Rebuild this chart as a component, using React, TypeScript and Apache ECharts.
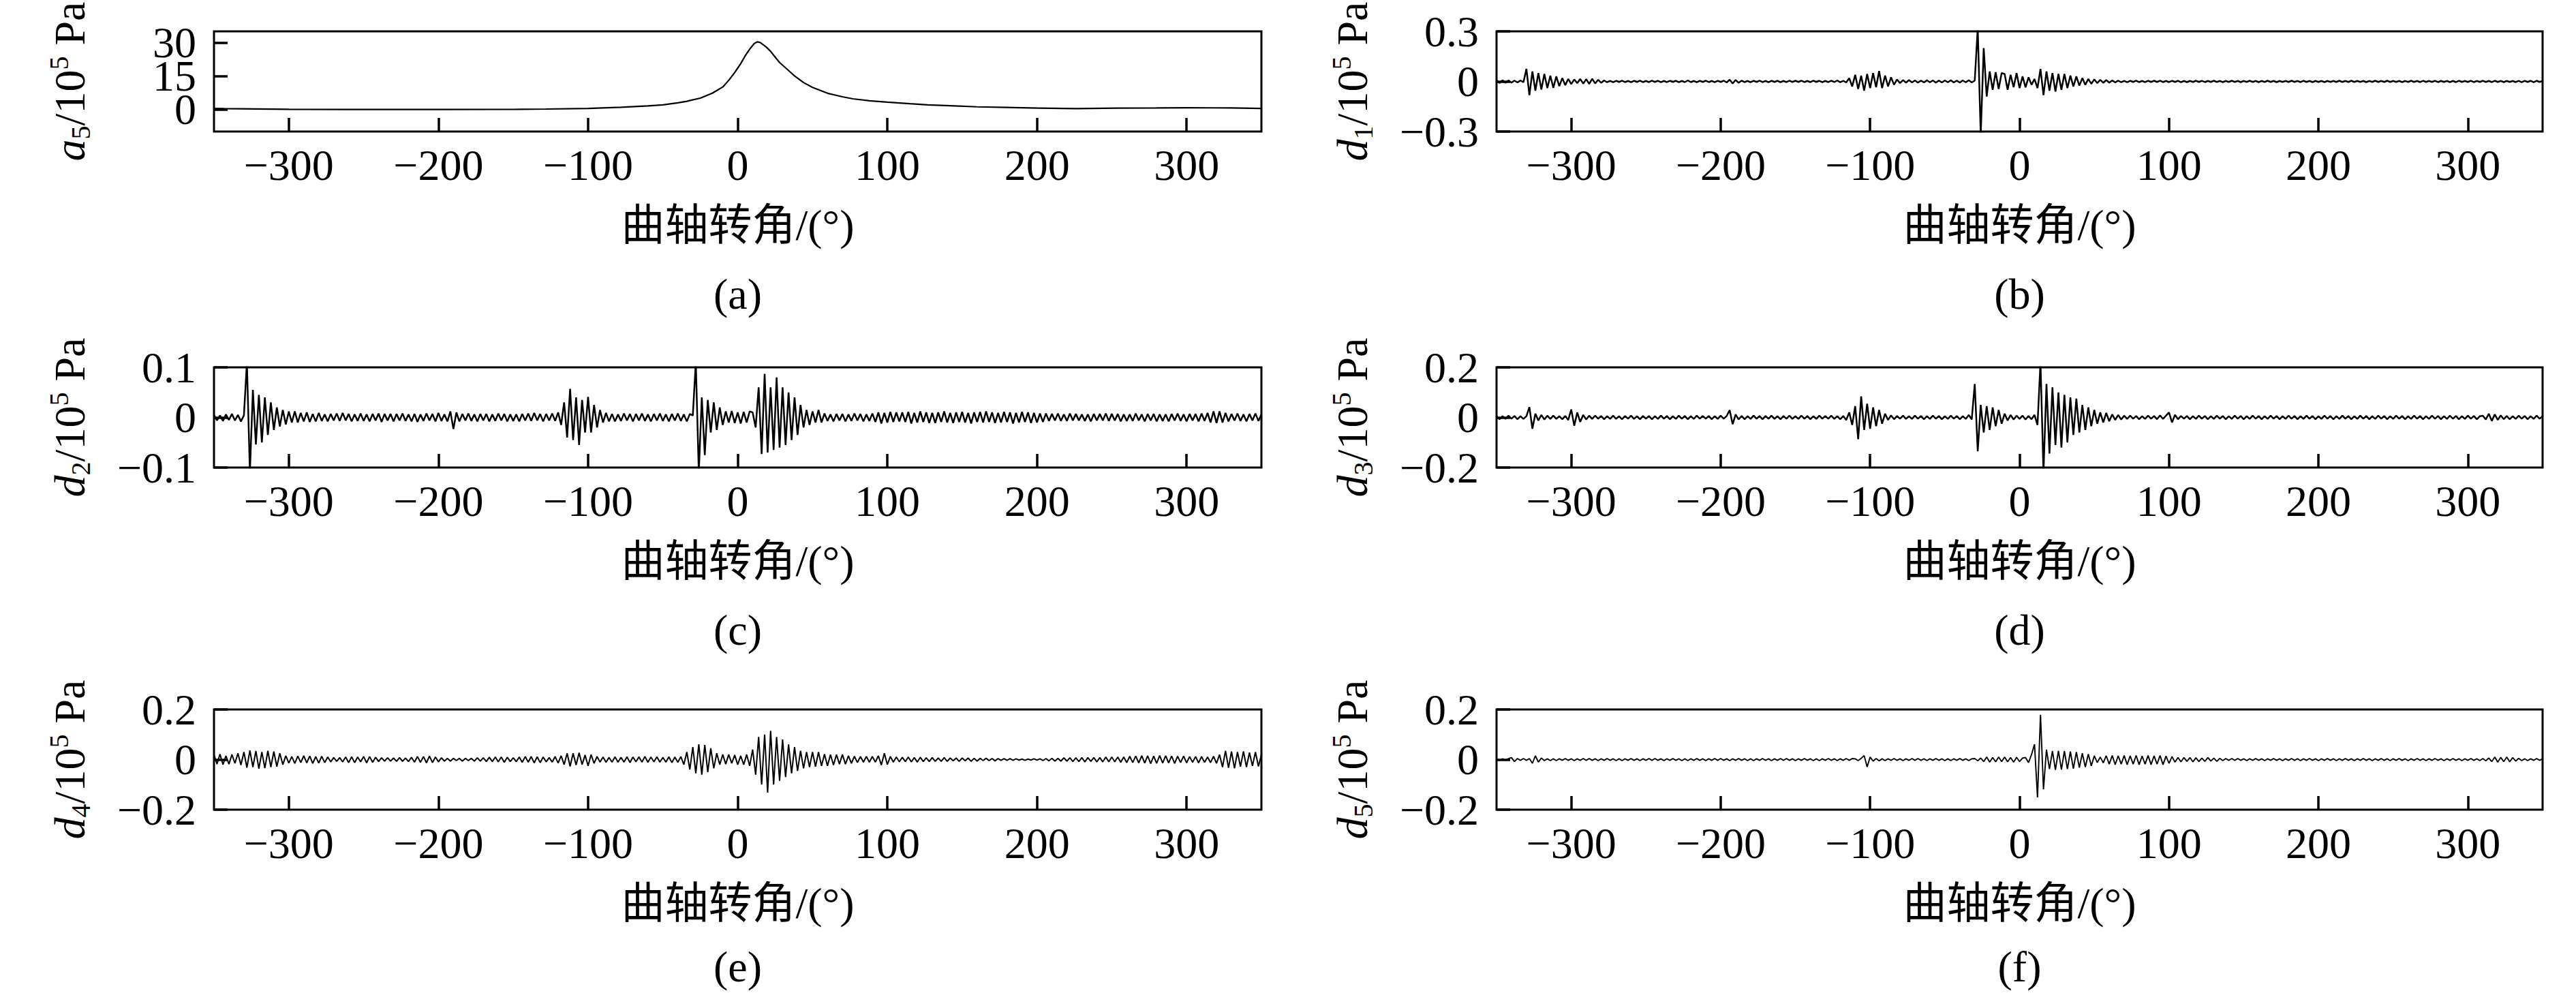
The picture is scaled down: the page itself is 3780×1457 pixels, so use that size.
import React, { useEffect, useRef } from "react";
import * as echarts from "echarts";

// ---------- data ----------
const X_TICKS = [-300, -200, -100, 0, 100, 200, 300];
const ANGLE_START = -350;
const ANGLE_STEP = 2;

// a5 approximation signal (smooth), read at irregular crank angles
const A5_ANGLES = [-350, -343, -300, -250, -200, -150, -128, -100, -78, -60, -50, -40, -34, -25, -17, -10, -6, -2, 2, 5, 8, 11, 13, 15, 17, 19, 22, 24, 28, 33, 38, 44, 50, 60, 70, 77, 88, 100, 115, 127, 145, 160, 180, 201, 226, 254, 280, 300, 330, 350];
const A5_VALUES = [0.4, 0.3, 0.0, -0.1, -0.1, -0.05, 0.1, 0.4, 0.9, 1.5, 2.0, 2.9, 3.6, 5.0, 7.2, 10.0, 13.0, 16.5, 20.5, 24.0, 27.0, 29.5, 30.3, 30.0, 29.0, 28.0, 26.0, 24.3, 21.0, 18.0, 15.0, 12.0, 9.8, 7.2, 5.6, 4.7, 3.8, 3.2, 2.5, 2.0, 1.5, 1.1, 0.8, 0.5, 0.3, 0.5, 0.6, 0.7, 0.6, 0.4];

// detail signals, one value every 2 degrees from -350 to 350 (351 values)
const D1 = [
  0.008,-0.009,0.007,-0.008,0.006,-0.007,0.005,-0.006,0.006,-0.005,
  0.075,-0.082,0.06,-0.055,0.05,-0.048,0.045,-0.04,0.035,-0.038,
  0.03,-0.028,0.02,-0.022,0.015,-0.016,0.012,-0.01,0.015,-0.013,
  0.014,-0.015,0.016,-0.012,0.01,-0.008,0.006,-0.005,0.004,-0.005,
  0.004,-0.003,0.005,-0.004,0.003,-0.005,0.004,-0.003,0.005,-0.004,
  0.003,-0.004,0.005,-0.003,0.004,-0.005,0.003,-0.004,0.004,-0.003,
  0.004,-0.005,0.003,-0.004,0.006,-0.004,0.003,-0.005,0.004,-0.003,
  0.005,-0.004,0.003,-0.005,0.004,-0.003,0.005,-0.006,0.01,-0.012,
  0.009,-0.008,0.005,-0.004,0.003,-0.005,0.004,-0.003,0.005,-0.004,
  0.003,-0.005,0.004,-0.003,0.004,-0.005,0.003,-0.004,0.005,-0.003,
  0.004,-0.003,0.005,-0.004,0.003,-0.004,0.005,-0.003,0.004,-0.005,
  0.003,-0.004,0.005,-0.004,0.006,-0.005,0.004,-0.006,0.02,-0.03,
  0.04,-0.045,0.035,-0.055,0.045,-0.04,0.05,-0.035,0.062,-0.04,
  0.035,-0.03,0.025,-0.02,0.012,-0.01,0.008,-0.007,0.008,-0.006,
  0.006,-0.007,0.005,-0.006,0.007,-0.005,0.006,-0.007,0.005,-0.006,
  0.006,-0.005,0.007,-0.006,0.005,-0.007,0.006,-0.005,0.007,-0.006,
  0.005,0.32,-0.32,0.2,-0.09,0.06,-0.05,0.055,-0.045,0.05,
  0.045,-0.05,0.04,-0.035,0.05,-0.04,0.03,-0.035,0.025,-0.02,
  0.015,-0.04,0.075,-0.082,0.06,-0.055,0.05,-0.06,0.045,-0.05,
  0.045,-0.04,0.035,-0.03,0.03,-0.025,0.02,-0.02,0.015,-0.014,
  0.012,-0.01,0.01,-0.008,0.008,-0.007,0.006,-0.006,0.005,-0.005,
  0.004,-0.005,0.004,-0.003,0.005,-0.004,0.003,-0.004,0.004,-0.003,
  0.004,-0.003,0.005,-0.004,0.003,-0.004,0.004,-0.003,0.004,-0.005,
  0.003,-0.004,0.003,-0.003,0.004,-0.003,0.004,-0.004,0.003,-0.003,
  0.004,-0.003,0.003,-0.004,0.003,-0.003,0.004,-0.003,0.003,-0.004,
  0.003,-0.003,0.004,-0.003,0.003,-0.004,0.003,-0.003,0.004,-0.003,
  0.003,-0.004,0.003,-0.003,0.003,-0.003,0.004,-0.003,0.003,-0.004,
  0.004,-0.003,0.003,-0.004,0.003,-0.003,0.003,-0.004,0.003,-0.003,
  0.003,-0.003,0.004,-0.003,0.003,-0.003,0.004,-0.003,0.003,-0.003,
  0.003,-0.004,0.003,-0.003,0.004,-0.003,0.003,-0.003,0.004,-0.003,
  0.003,-0.003,0.003,-0.004,0.003,-0.003,0.004,-0.003,0.003,-0.004,
  0.004,-0.003,0.003,-0.003,0.004,-0.004,0.003,-0.003,0.003,-0.004,
  0.003,-0.004,0.004,-0.003,0.003,-0.003,0.004,-0.004,0.003,-0.003,
  0.004,-0.003,0.003,-0.004,0.004,-0.003,0.003,-0.004,0.003,-0.003,
  0.003,-0.004,0.004,-0.005,0.004,-0.003,0.004,-0.005,0.004,-0.003,
  0.003
];

const D2 = [
  0.005,-0.006,0.004,-0.007,0.006,-0.005,0.007,-0.006,0.005,-0.008,
  0.004,0.11,-0.11,0.055,-0.054,0.045,-0.05,0.04,-0.035,0.03,
  -0.025,0.02,-0.018,0.015,-0.014,0.012,-0.01,0.012,-0.01,0.009,
  -0.008,0.01,-0.009,0.007,-0.008,0.009,-0.007,0.006,-0.008,0.007,
  -0.006,0.008,-0.007,0.009,-0.006,0.007,-0.008,0.006,-0.007,0.008,
  -0.007,0.006,-0.008,0.007,-0.006,0.008,-0.009,0.007,-0.006,0.007,
  -0.008,0.007,-0.006,0.008,-0.007,0.006,-0.008,0.007,-0.009,0.006,
  -0.007,0.008,-0.006,0.007,-0.008,0.009,-0.007,0.006,-0.008,0.012,
  -0.023,0.01,-0.008,0.007,-0.006,0.008,-0.007,0.006,-0.008,0.007,
  -0.006,0.007,-0.008,0.006,-0.007,0.008,-0.006,0.007,-0.008,0.006,
  -0.007,0.006,-0.008,0.007,-0.006,0.008,-0.007,0.009,-0.006,0.007,
  -0.008,0.007,-0.006,0.008,-0.007,0.01,-0.015,0.03,-0.04,0.057,
  -0.045,0.04,-0.055,0.035,-0.03,0.041,-0.03,0.025,-0.02,0.015,
  -0.01,0.009,-0.008,0.007,-0.008,0.006,-0.007,0.008,-0.006,0.007,
  -0.008,0.007,-0.006,0.008,-0.007,0.006,-0.008,0.007,-0.006,0.008,
  -0.007,0.006,-0.008,0.007,-0.006,0.008,-0.007,0.006,-0.008,0.007,
  0.004,0.11,-0.11,0.04,-0.075,0.035,-0.03,0.03,-0.025,0.02,
  -0.015,0.012,-0.01,0.013,-0.011,0.01,-0.012,0.011,-0.01,0.012,
  0.01,-0.02,0.06,-0.073,0.087,-0.07,0.06,-0.065,0.08,-0.06,
  0.06,-0.055,0.05,-0.045,0.04,-0.035,0.025,-0.02,0.015,-0.015,
  0.012,-0.01,0.015,-0.01,0.008,-0.007,0.006,-0.008,0.007,-0.006,
  0.007,-0.008,0.006,-0.007,0.008,-0.006,0.007,-0.008,0.006,-0.007,
  0.008,-0.009,0.01,-0.012,0.009,-0.01,0.011,-0.009,0.01,-0.008,
  0.01,-0.009,0.011,-0.012,0.009,-0.01,0.012,-0.009,0.01,-0.011,
  0.009,-0.011,0.01,-0.009,0.012,-0.01,0.009,-0.011,0.01,-0.009,
  0.011,-0.01,0.009,-0.012,0.01,-0.009,0.011,-0.01,0.012,-0.009,
  0.01,-0.011,0.009,-0.01,0.011,-0.009,0.01,-0.012,0.009,-0.01,
  0.011,-0.009,0.01,-0.011,0.009,-0.01,0.008,-0.009,0.008,-0.007,
  0.007,-0.006,0.008,-0.007,0.006,-0.007,0.008,-0.006,0.007,-0.006,
  0.006,-0.007,0.006,-0.008,0.007,-0.006,0.007,-0.006,0.008,-0.007,
  0.007,-0.006,0.007,-0.008,0.006,-0.007,0.006,-0.007,0.008,-0.006,
  0.006,-0.008,0.007,-0.006,0.007,-0.008,0.006,-0.007,0.006,-0.008,
  0.007,-0.006,0.008,-0.007,0.006,-0.008,0.007,-0.006,0.007,-0.008,
  0.008,-0.007,0.009,-0.01,0.012,-0.011,0.012,-0.01,0.009,-0.008,
  0.007,-0.006,0.008,-0.007,0.006,-0.008,0.007,-0.006,0.008,-0.007,
  0.006
];

const D3 = [
  0.006,-0.007,0.005,-0.006,0.007,-0.005,0.006,-0.007,0.005,-0.006,
  0.005,0.041,-0.045,0.015,-0.012,0.01,-0.008,0.007,-0.006,0.007,
  -0.006,0.005,-0.007,0.006,-0.01,0.032,-0.033,0.02,-0.018,0.01,
  -0.008,0.007,-0.006,0.007,-0.005,0.006,-0.007,0.005,-0.006,0.007,
  -0.006,0.005,-0.007,0.006,-0.005,0.007,-0.006,0.005,-0.007,0.006,
  -0.005,0.006,-0.007,0.005,-0.006,0.007,-0.005,0.006,-0.007,0.005,
  -0.006,0.007,-0.005,0.006,-0.007,0.005,-0.006,0.007,-0.005,0.006,
  -0.005,0.006,-0.007,0.005,-0.006,0.007,-0.005,0.006,0.029,-0.027,
  0.012,-0.008,0.006,-0.007,0.005,-0.006,0.007,-0.005,0.006,-0.007,
  0.006,-0.005,0.007,-0.006,0.005,-0.007,0.006,-0.005,0.007,-0.006,
  0.005,-0.006,0.007,-0.005,0.006,-0.007,0.005,-0.006,0.007,-0.005,
  0.006,-0.005,0.007,-0.006,0.005,-0.007,0.006,-0.01,0.02,-0.03,
  0.045,-0.087,0.084,-0.05,0.055,-0.045,0.04,-0.035,0.03,-0.025,
  0.015,-0.01,0.008,-0.007,0.006,-0.005,0.007,-0.006,0.005,-0.006,
  0.007,-0.005,0.006,-0.007,0.005,-0.006,0.007,-0.005,0.006,-0.007,
  0.005,-0.006,0.007,-0.005,0.006,-0.007,0.005,-0.006,0.01,-0.008,
  0.134,-0.135,0.05,-0.06,0.045,-0.05,0.04,-0.035,0.03,-0.025,
  0.015,-0.012,0.01,-0.008,0.007,-0.006,0.007,-0.008,0.006,-0.007,
  0.01,-0.03,0.22,-0.22,0.134,-0.144,0.12,-0.11,0.1,-0.12,
  0.09,-0.1,0.08,-0.07,0.075,-0.06,0.05,-0.05,0.04,-0.035,
  0.03,-0.025,0.02,-0.02,0.018,-0.015,0.012,-0.01,0.01,-0.008,
  0.007,-0.006,0.007,-0.005,0.006,-0.007,0.005,-0.006,0.007,-0.005,
  0.006,-0.007,0.008,-0.006,0.007,0.02,-0.02,0.01,-0.007,0.006,
  -0.005,0.006,-0.007,0.005,-0.006,0.007,-0.005,0.006,-0.007,0.005,
  -0.006,0.007,-0.005,0.006,-0.007,0.005,-0.006,0.007,-0.005,0.006,
  -0.007,0.005,-0.006,0.007,-0.005,0.006,-0.007,0.005,-0.006,0.007,
  -0.005,0.006,-0.007,0.005,-0.006,0.007,-0.005,0.006,-0.007,0.005,
  -0.006,0.007,-0.005,0.006,-0.007,0.005,-0.006,0.007,-0.005,0.006,
  -0.007,0.005,-0.006,0.007,-0.005,0.006,-0.007,0.005,-0.006,0.007,
  -0.005,0.006,-0.007,0.005,-0.006,0.007,-0.005,0.006,-0.007,0.005,
  -0.006,0.007,-0.005,0.006,-0.007,0.005,-0.006,0.007,-0.005,0.006,
  -0.007,0.005,-0.006,0.007,-0.005,0.006,-0.007,0.005,-0.006,0.007,
  -0.005,0.006,-0.007,0.005,-0.006,0.007,-0.005,0.006,-0.007,0.005,
  0.007,-0.008,0.015,-0.014,0.012,-0.01,0.008,-0.007,0.006,-0.007,
  0.005,-0.006,0.007,-0.005,0.006,-0.007,0.005,-0.006,0.007,-0.005,
  0.005
];

const D4 = [
  0.02,-0.018,0.022,-0.02,0.015,-0.018,0.02,-0.015,0.025,-0.022,
  0.03,-0.032,0.036,-0.03,0.034,-0.036,0.03,-0.034,0.035,-0.03,
  0.032,-0.028,0.025,-0.02,0.015,-0.014,0.012,-0.015,0.014,-0.012,
  0.015,-0.013,0.014,-0.015,0.012,-0.014,0.013,-0.012,0.01,-0.009,
  0.008,-0.007,0.008,-0.009,0.01,-0.012,0.011,-0.012,0.01,-0.009,
  0.012,-0.013,0.012,-0.011,0.009,-0.008,0.007,-0.006,0.007,-0.006,
  0.006,-0.007,0.008,-0.007,0.006,-0.008,0.009,-0.01,0.012,-0.011,
  0.012,-0.013,0.014,-0.012,0.01,-0.009,0.007,-0.006,0.005,-0.006,
  0.005,-0.004,0.005,-0.006,0.005,-0.004,0.005,-0.006,0.007,-0.006,
  0.007,-0.008,0.009,-0.008,0.01,-0.009,0.01,-0.011,0.009,-0.008,
  0.007,-0.008,0.01,-0.011,0.012,-0.01,0.012,-0.013,0.011,-0.012,
  0.01,-0.009,0.008,-0.01,0.012,-0.014,0.015,-0.02,0.025,-0.027,
  0.025,-0.022,0.027,-0.02,0.018,-0.025,0.02,-0.015,0.012,-0.01,
  0.01,-0.011,0.009,-0.01,0.011,-0.01,0.009,-0.01,0.011,-0.012,
  0.01,-0.009,0.011,-0.01,0.012,-0.011,0.01,-0.009,0.011,-0.01,
  0.009,-0.01,0.011,-0.012,0.01,-0.011,0.012,-0.02,0.03,-0.04,
  0.05,-0.055,0.061,-0.06,0.058,-0.05,0.045,-0.035,0.025,-0.02,
  0.02,-0.018,0.02,-0.015,0.018,-0.02,0.015,-0.02,0.02,-0.025,
  0.04,-0.06,0.09,-0.1,0.1,-0.132,0.115,-0.1,0.09,-0.085,
  0.08,-0.07,0.06,-0.055,0.05,-0.045,0.035,-0.035,0.03,-0.03,
  0.03,-0.028,0.03,-0.025,0.022,-0.025,0.02,-0.022,0.02,-0.018,
  0.02,-0.018,0.015,-0.015,0.013,-0.012,0.012,-0.01,0.012,-0.01,
  0.012,-0.01,0.015,-0.022,0.025,-0.02,0.012,-0.01,0.01,-0.009,
  0.009,-0.008,0.01,-0.009,0.008,-0.01,0.009,-0.008,0.007,-0.008,
  0.008,-0.007,0.006,-0.007,0.008,-0.007,0.006,-0.005,0.006,-0.007,
  0.006,-0.005,0.006,-0.007,0.005,-0.006,0.005,-0.004,0.005,-0.004,
  0.004,-0.005,0.004,-0.003,0.004,-0.003,0.004,-0.003,0.003,-0.002,
  0.002,-0.003,0.002,-0.002,0.003,-0.002,0.003,-0.004,0.004,-0.005,
  0.005,-0.006,0.005,-0.006,0.007,-0.006,0.007,-0.008,0.007,-0.008,
  0.008,-0.009,0.008,-0.007,0.008,-0.009,0.008,-0.009,0.01,-0.009,
  0.01,-0.009,0.01,-0.011,0.01,-0.012,0.013,-0.012,0.014,-0.013,
  0.015,-0.014,0.015,-0.016,0.014,-0.015,0.016,-0.014,0.015,-0.013,
  0.014,-0.015,0.013,-0.012,0.014,-0.013,0.012,-0.011,0.012,-0.013,
  0.012,-0.011,0.01,-0.012,0.013,-0.015,0.02,-0.03,0.035,-0.033,
  0.032,-0.035,0.03,-0.028,0.033,-0.03,0.028,-0.025,0.03,-0.027,
  0.02
];

const D5 = [
  0.003,-0.004,0.003,-0.003,0.004,0.008,-0.008,0.004,-0.003,0.004,
  -0.003,0.004,-0.015,0.015,-0.01,0.006,-0.004,0.003,-0.004,0.003,
  -0.004,0.003,-0.003,0.004,-0.003,0.003,-0.004,0.003,-0.003,0.004,
  -0.003,0.004,-0.003,0.003,-0.004,0.003,-0.003,0.004,-0.003,0.003,
  -0.004,0.003,-0.004,0.003,-0.003,0.004,-0.003,0.003,-0.004,0.003,
  -0.003,0.004,-0.003,0.004,-0.003,0.003,-0.004,0.003,-0.003,0.004,
  -0.003,0.003,-0.004,0.003,-0.004,0.003,-0.003,0.004,-0.003,0.003,
  -0.004,0.003,-0.003,0.004,-0.003,0.004,-0.003,0.003,-0.004,0.003,
  -0.003,0.004,-0.003,0.003,-0.004,0.003,-0.004,0.003,-0.003,0.004,
  -0.003,0.003,-0.004,0.003,-0.003,0.004,-0.003,0.004,-0.003,0.003,
  -0.004,0.003,-0.003,0.004,-0.003,0.003,-0.004,0.003,-0.004,0.003,
  -0.003,0.004,-0.003,0.003,-0.004,0.003,-0.003,0.004,-0.003,0.004,
  0.003,-0.004,0.005,0.016,-0.029,0.01,-0.006,0.004,-0.005,0.003,
  -0.004,0.003,-0.003,0.004,-0.003,0.003,-0.004,0.003,-0.003,0.004,
  -0.003,0.004,-0.003,0.003,-0.004,0.003,-0.003,0.004,-0.003,0.003,
  -0.004,0.003,-0.004,0.003,-0.003,0.004,-0.003,0.003,-0.004,0.003,
  0.004,-0.005,0.006,-0.008,0.01,-0.01,0.008,-0.009,0.01,-0.008,
  0.01,-0.009,0.008,-0.01,0.009,-0.008,0.006,0.008,-0.012,0.02,
  0.061,-0.151,0.179,-0.119,0.04,-0.038,0.034,-0.041,0.035,-0.04,
  0.034,-0.038,0.032,-0.036,0.03,-0.032,0.025,-0.03,0.022,-0.025,
  0.015,-0.012,0.01,-0.013,0.015,-0.018,0.016,-0.02,0.015,-0.018,
  0.016,-0.02,0.015,-0.018,0.016,-0.02,0.014,-0.018,0.016,-0.02,
  0.015,-0.018,0.016,-0.02,0.014,-0.015,0.012,-0.01,0.008,-0.009,
  0.008,-0.007,0.008,-0.009,0.007,-0.008,0.006,-0.007,0.008,-0.006,
  0.006,-0.007,0.005,-0.004,0.004,-0.003,0.004,-0.003,0.004,-0.003,
  0.003,-0.004,0.003,-0.003,0.004,-0.003,0.003,-0.004,0.003,-0.003,
  0.004,-0.003,0.003,-0.004,0.003,-0.003,0.004,-0.003,0.003,-0.004,
  0.003,-0.003,0.004,-0.003,0.003,-0.004,0.003,-0.003,0.004,-0.003,
  0.003,-0.004,0.003,-0.003,0.004,-0.003,0.003,-0.004,0.003,-0.003,
  0.004,-0.003,0.003,-0.004,0.003,-0.003,0.004,-0.003,0.003,-0.004,
  0.003,-0.003,0.004,-0.003,0.003,-0.004,0.003,-0.003,0.004,-0.003,
  0.003,-0.004,0.003,-0.003,0.004,-0.003,0.003,-0.004,0.003,-0.003,
  0.004,-0.003,0.003,-0.004,0.003,-0.003,0.004,-0.003,0.003,-0.004,
  0.004,-0.005,0.006,-0.008,0.01,-0.01,0.009,-0.008,0.01,-0.009,
  0.008,-0.006,0.005,-0.004,0.003,-0.004,0.003,-0.003,0.004,-0.003,
  0.003
];

const Y_TICKS_A = [0, 15, 30];
const Y_TICKS_B = [-0.3, 0, 0.3];
const Y_TICKS_C = [-0.1, 0, 0.1];
const Y_TICKS_DEF = [-0.2, 0, 0.2];

const PANEL_LABELS = ["(a)", "(b)", "(c)", "(d)", "(e)", "(f)"];
const PANEL_SYMBOLS = ["a", "d", "d", "d", "d", "d"];
const PANEL_INDEX = ["5", "1", "2", "3", "4", "5"];
const X_NAME = "曲轴转角/(°)";

// ---------- layout / style ----------
const SERIF = "'Liberation Serif', 'Times New Roman', 'Noto Sans CJK SC', serif";
const FS = 64;
const COL_LEFT = [314, 2196];
const COL_WIDTH = [1537, 1535];
const ROW_TOP = [46, 539, 1041];
const PLOT_H = 147;
const CAPTION_Y = [433, 926, 1420];
const TICK_LEN = 20;
const LINE_W = [2.2, 2.5, 2.5, 2.5, 2.0, 1.9];

const fmt = (v: number) => {
  if (Math.abs(v) < 1e-9) return "0";
  const s = String(Math.round(v * 1000) / 1000);
  return s.replace("-", "\u2212");
};

const toPairs = (vals: number[]) => vals.map((v, i) => [ANGLE_START + i * ANGLE_STEP, v]);

export default function App() {
  const ref = useRef<HTMLDivElement>(null);

  useEffect(() => {
    if (!ref.current) return;
    const chart = echarts.init(ref.current, null, { renderer: "svg" });

    const seriesData: number[][][] = [
      A5_ANGLES.map((a, i) => [a, A5_VALUES[i]]),
      toPairs(D1),
      toPairs(D2),
      toPairs(D3),
      toPairs(D4),
      toPairs(D5),
    ];
    const yTicks = [Y_TICKS_A, Y_TICKS_B, Y_TICKS_C, Y_TICKS_DEF, Y_TICKS_DEF, Y_TICKS_DEF];
    const yRange: [number, number][] = [[-10, 35], [-0.3, 0.3], [-0.1, 0.1], [-0.2, 0.2], [-0.2, 0.2], [-0.2, 0.2]];

    const rich = {
      n: { fontFamily: SERIF, fontSize: FS, lineHeight: 72, color: "#000", verticalAlign: "middle" },
      i: { fontFamily: SERIF, fontStyle: "italic", fontSize: FS, lineHeight: 72, color: "#000", verticalAlign: "middle" },
      sup: { fontFamily: SERIF, fontSize: 40, lineHeight: 40, color: "#000", verticalAlign: "top" },
      sub: { fontFamily: SERIF, fontSize: 40, lineHeight: 40, color: "#000", verticalAlign: "bottom" },
    };

    const labelStyle = { fontFamily: SERIF, fontSize: FS, color: "#000" };

    const grids: any[] = [];
    const xAxes: any[] = [];
    const yAxes: any[] = [];
    const series: any[] = [];
    const titles: any[] = [];

    for (let p = 0; p < 6; p++) {
      const col = p % 2;
      const row = Math.floor(p / 2);
      grids.push({
        left: COL_LEFT[col],
        top: ROW_TOP[row],
        width: COL_WIDTH[col],
        height: PLOT_H,
        show: true,
        borderColor: "#000",
        borderWidth: 3,
        backgroundColor: "transparent",
      });

      const ticks = yTicks[p];
      const [yMin, yMax] = yRange[p];
      const mainYIndex = yAxes.length;

      xAxes.push({
        type: "value",
        gridIndex: p,
        position: "bottom",
        min: -350,
        max: 350,
        axisLine: { show: false, onZero: false },
        splitLine: { show: false },
        axisTick: { show: false },
        axisLabel: { ...labelStyle, customValues: X_TICKS, formatter: fmt, margin: 17 },
        name: X_NAME,
        nameLocation: "middle",
        nameGap: 105,
        nameTextStyle: { ...labelStyle },
      });

      // the (a) panel has closely spaced labels: the middle one sits on a twin axis
      const mainLabels = p === 0 ? [ticks[0], ticks[2]] : ticks;
      yAxes.push({
        type: "value",
        gridIndex: p,
        position: "left",
        min: yMin,
        max: yMax,
        axisLine: { show: false, onZero: false },
        splitLine: { show: false },
        axisTick: { show: false },
        axisLabel: {
          ...labelStyle,
          customValues: mainLabels,
          formatter: fmt,
          showMinLabel: true,
          showMaxLabel: true,
          margin: 26,
        },
        name: `{i|${PANEL_SYMBOLS[p]}}{sub|${PANEL_INDEX[p]}}{n|/10}{sup|5}{n| Pa}`,
        nameLocation: "middle",
        nameRotate: 90,
        nameGap: 176,
        nameTextStyle: { rich },
      });
      if (p === 0) {
        yAxes.push({
          type: "value",
          gridIndex: p,
          position: "left",
          offset: 0,
          min: yMin,
          max: yMax,
          axisLine: { show: false, onZero: false },
          splitLine: { show: false },
          axisTick: { show: false },
          axisLabel: { ...labelStyle, customValues: [ticks[1]], formatter: fmt, margin: 26 },
        });
      }

      // inward tick marks as mark lines, placed through the axes' own scales
      const dy = (TICK_LEN / PLOT_H) * (yMax - yMin);
      const dx = (TICK_LEN / COL_WIDTH[col]) * 700;
      const tickLines = [
        ...X_TICKS.map((v) => [{ coord: [v, yMin] }, { coord: [v, yMin + dy] }]),
        ...ticks.map((v) => [{ coord: [-350, v] }, { coord: [-350 + dx, v] }]),
      ];

      series.push({
        type: "line",
        xAxisIndex: p,
        yAxisIndex: mainYIndex,
        data: seriesData[p],
        showSymbol: false,
        symbol: "none",
        silent: true,
        clip: true,
        lineStyle: { color: "#000", width: LINE_W[p] },
        markLine: {
          silent: true,
          animation: false,
          symbol: ["none", "none"],
          label: { show: false },
          emphasis: { disabled: true },
          lineStyle: { color: "#000", width: 3.5, type: "solid", opacity: 1 },
          data: tickLines,
        },
      });

      titles.push({
        text: PANEL_LABELS[p],
        left: COL_LEFT[col] + COL_WIDTH[col] / 2,
        top: CAPTION_Y[row] - 34,
        textAlign: "center",
        padding: 0,
        textStyle: { fontFamily: SERIF, fontSize: FS, fontWeight: "normal", color: "#000" },
      });
    }

    chart.setOption({
      animation: false,
      backgroundColor: "#fff",
      title: titles,
      grid: grids,
      xAxis: xAxes,
      yAxis: yAxes,
      series,
    });

    return () => chart.dispose();
  }, []);

  return (
    <div
      ref={ref}
      style={{ position: "fixed", left: 0, top: 0, width: "3780px", height: "1457px", background: "#fff" }}
    />
  );
}
